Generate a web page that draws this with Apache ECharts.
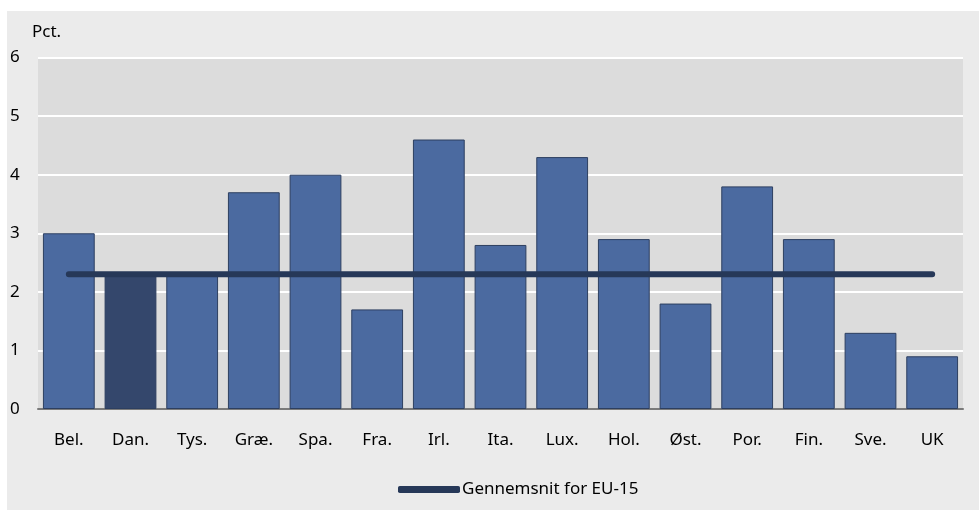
<!DOCTYPE html>
<html>
<head>
<meta charset="utf-8">
<script src="https://cdn.jsdelivr.net/npm/echarts@6/dist/echarts.min.js"></script>
<style>
html,body{margin:0;padding:0;background:#ffffff;}
#wrap{position:relative;width:979px;height:511px;background:#ffffff;}
#chart{position:absolute;left:7px;top:11px;width:972px;height:499px;}
</style>
</head>
<body>
<div id="wrap"><div id="chart"></div></div>
<script>
const categories = ['Bel.','Dan.','Tys.','Græ.','Spa.','Fra.','Irl.','Ita.','Lux.','Hol.','Øst.','Por.','Fin.','Sve.','UK'];
const values = [3.0, 2.3, 2.3, 3.7, 4.0, 1.7, 4.6, 2.8, 4.3, 2.9, 1.8, 3.8, 2.9, 1.3, 0.9];
const average = [2.3, 2.3, 2.3, 2.3, 2.3, 2.3, 2.3, 2.3, 2.3, 2.3, 2.3, 2.3, 2.3, 2.3, 2.3];
const highlightIndex = 1;
const yTicks = [0, 1, 2, 3, 4, 5, 6];
const unitLabel = 'Pct.';
const lineName = 'Gennemsnit for EU-15';

const FONT = 'Noto Sans';
const chart = echarts.init(document.getElementById('chart'));
chart.setOption({
  backgroundColor: '#ebebeb',
  animation: false,
  title: {
    text: unitLabel, left: 20, top: 8,
    textStyle: {fontFamily: FONT, fontSize: 17, fontWeight: 'normal', color: '#000'}
  },
  legend: {
    left: 386, top: 465,
    itemWidth: 62, itemHeight: 7, itemGap: 10,
    data: [{name: lineName, icon: 'roundRect', itemStyle: {color: '#263858'}}],
    textStyle: {fontFamily: FONT, fontSize: 17, color: '#000', padding: [0,0,0,-3]}
  },
  grid: {left: 29, right: 16, top: 46.5, bottom: 101, show: true, backgroundColor: '#dcdcdc', borderWidth: 0},
  xAxis: {
    type: 'category', data: categories,
    axisLine: {lineStyle: {color: '#7a7a7a', width: 2}},
    axisTick: {show: false},
    axisLabel: {fontFamily: FONT, fontSize: 17, color: '#000', margin: 23}
  },
  yAxis: {
    type: 'value', min: yTicks[0], max: yTicks[yTicks.length-1], interval: 1,
    axisLine: {show: false}, axisTick: {show: false},
    splitLine: {lineStyle: {color: '#ffffff', width: 2}},
    axisLabel: {fontFamily: FONT, fontSize: 17, color: '#000', align: 'left', margin: 28}
  },
  series: [
    {
      type: 'bar', data: values.map((v, i) => ({
        value: v,
        itemStyle: i === highlightIndex ? {color: '#34476c'} : undefined
      })),
      barCategoryGap: '16%',
      itemStyle: {color: '#4b6aa0', borderColor: '#2d3f60', borderWidth: 1},
      z: 2
    },
    {
      type: 'line', name: lineName, data: average,
      symbol: 'none', lineStyle: {color: '#263858', width: 6, cap: 'round'},
      itemStyle: {color: '#263858'},
      z: 5
    }
  ]
});
</script>
</body>
</html>
